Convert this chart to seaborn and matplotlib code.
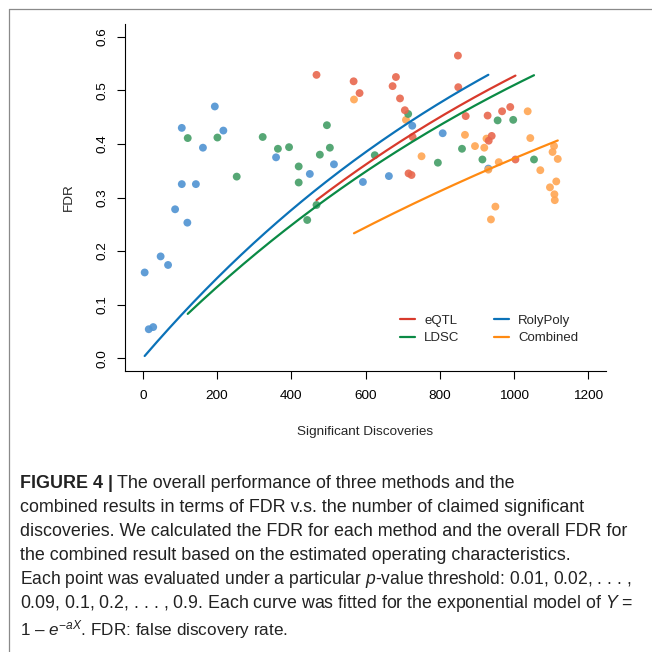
import numpy as np
import pandas as pd
import seaborn as sns
import matplotlib
matplotlib.use('Agg')
import matplotlib.pyplot as plt
from matplotlib.lines import Line2D

# points (significant discoveries, FDR)
roly_x = [5, 16, 28, 48, 68, 87, 105, 105, 120, 143, 162, 194, 217,
          359, 450, 515, 593, 663, 726, 808, 931]
roly_y = [0.160, 0.054, 0.058, 0.190, 0.174, 0.278, 0.430, 0.325, 0.253, 0.325,
          0.393, 0.470, 0.425, 0.375, 0.344, 0.362, 0.329, 0.340, 0.434, 0.420, 0.354]

ldsc_x = [121, 201, 253, 323, 364, 394, 420, 420, 443, 468, 477, 496, 504,
          625, 715, 795, 860, 915, 956, 998, 1054]
ldsc_y = [0.411, 0.412, 0.339, 0.413, 0.391, 0.394, 0.358, 0.328, 0.258, 0.286,
          0.380, 0.435, 0.393, 0.379, 0.456, 0.365, 0.391, 0.371, 0.444, 0.445, 0.371]

eqtl_x = [468, 568, 584, 673, 682, 693, 706, 716, 724, 727, 849, 850, 870,
          929, 932, 940, 968, 990, 1004]
eqtl_y = [0.529, 0.517, 0.495, 0.508, 0.525, 0.485, 0.463, 0.345, 0.342, 0.413,
          0.565, 0.506, 0.452, 0.453, 0.406, 0.415, 0.461, 0.469, 0.371]

comb_x = [569, 709, 751, 868, 895, 920, 926, 931, 938, 950, 959, 1037, 1044,
          1071, 1097, 1104, 1108, 1109, 1110, 1114, 1118]
comb_y = [0.483, 0.445, 0.377, 0.417, 0.396, 0.393, 0.410, 0.352, 0.259, 0.283,
          0.366, 0.461, 0.411, 0.351, 0.319, 0.385, 0.396, 0.306, 0.295, 0.330, 0.372]

# fitted rate a of Y = 1 - exp(-aX), per method
rates = {'eQTL': 0.000747, 'LDSC': 0.000713, 'RolyPoly': 0.000809, 'Combined': 0.0004666}

methods = ['eQTL', 'LDSC', 'RolyPoly', 'Combined']
line_colors = {'eQTL': '#D83A2C', 'LDSC': '#0A8A45', 'RolyPoly': '#0B72B8', 'Combined': '#FF8A12'}
point_colors = {'eQTL': '#E8674D', 'LDSC': '#449E66', 'RolyPoly': '#4F93D2', 'Combined': '#FFA552'}

series = {'RolyPoly': (roly_x, roly_y), 'Combined': (comb_x, comb_y),
          'LDSC': (ldsc_x, ldsc_y), 'eQTL': (eqtl_x, eqtl_y)}

pts = pd.concat([pd.DataFrame({'x': xs, 'y': ys, 'method': m})
                 for m, (xs, ys) in series.items()], ignore_index=True)

curves = []
for m in methods:
    xs = series[m][0]
    xx = np.linspace(min(xs), max(xs), 200)
    curves.append(pd.DataFrame({'x': xx, 'y': 1 - np.exp(-rates[m] * xx), 'method': m}))
curves = pd.concat(curves, ignore_index=True)

sns.set_style('ticks')
plt.rcParams['font.family'] = ['Liberation Sans', 'DejaVu Sans']
plt.rcParams['mathtext.fontset'] = 'custom'
plt.rcParams['mathtext.rm'] = 'Liberation Sans'
plt.rcParams['mathtext.it'] = 'Liberation Sans:italic'

fig = plt.figure(figsize=(6.52, 6.52), dpi=100)
W = H = 652.0
ax = fig.add_axes([125 / W, 1 - 371 / H, (606 - 125) / W, (371 - 24) / H])

sns.scatterplot(data=pts, x='x', y='y', hue='method', palette=point_colors,
                s=32, linewidth=0, alpha=0.9, legend=False, ax=ax, zorder=2)
sns.lineplot(data=curves, x='x', y='y', hue='method', palette=line_colors,
             linewidth=1.6, sort=False, estimator=None, legend=False, ax=ax, zorder=3)

ax.set_xlim(-48, 1248)
ax.set_ylim(-0.024, 0.624)
ax.set_xticks([0, 200, 400, 600, 800, 1000, 1200])
ax.set_yticks([0.0, 0.1, 0.2, 0.3, 0.4, 0.5, 0.6])
ax.set_yticklabels(['0.0', '0.1', '0.2', '0.3', '0.4', '0.5', '0.6'])
for s in ['top', 'right']:
    ax.spines[s].set_visible(False)
for s in ['left', 'bottom']:
    ax.spines[s].set_color('black')
    ax.spines[s].set_linewidth(0.8)
ax.tick_params(axis='both', length=5.8, width=0.8, color='black', labelsize=9.7,
               labelcolor='black')
ax.tick_params(axis='x', pad=8)
ax.tick_params(axis='y', pad=6)
for lab in ax.get_yticklabels():
    lab.set_rotation(90)
    lab.set_va('center')
ax.set_xlabel('Significant Discoveries', fontsize=9.7, labelpad=17)
ax.set_ylabel('FDR', fontsize=9.7, labelpad=16)

handles = [Line2D([], [], color=line_colors[m], lw=1.6) for m in methods]
ax.legend(handles, methods, ncol=2, frameon=False, fontsize=9.5,
          loc='upper left', bbox_to_anchor=(0.572, 0.163), borderpad=0,
          borderaxespad=0, handlelength=1.15, handletextpad=0.68,
          columnspacing=2.6, labelspacing=0.42)

# outer frame of the figure panel
fig.add_artist(Line2D([9 / W, 9 / W], [0, 1 - 9 / H], color='#8a8a8a', lw=0.9))
fig.add_artist(Line2D([9 / W, 1], [1 - 9 / H, 1 - 9 / H], color='#8a8a8a', lw=0.9))

# caption; lines that run long in the source are shrunk to its width
cap_size = 12.9
x0 = 20 / W
lines_y = [484, 508, 532, 556, 580, 604, 630]
right_edges = [544, 631, 632, 617, 632, 632, 287]
caption = [
    'The overall performance of three methods and the',
    'combined results in terms of FDR v.s. the number of claimed significant',
    'discoveries. We calculated the FDR for each method and the overall FDR for',
    'the combined result based on the estimated operating characteristics.',
    r'Each point was evaluated under a particular $p$-value threshold: 0.01, 0.02, . . . ,',
    r'0.09, 0.1, 0.2, . . . , 0.9. Each curve was fitted for the exponential model of $Y$ =',
    r'1 – $e^{-aX}$. FDR: false discovery rate.',
]
col = '#222222'
bold = fig.text(x0, 1 - lines_y[0] / H, 'FIGURE 4 |', fontsize=cap_size,
                fontweight='bold', va='center', color=col)
fig.canvas.draw()
fig.text(bold.get_window_extent().x1 / W + 4 / W, 1 - lines_y[0] / H,
         caption[0], fontsize=cap_size, va='center', color=col)

for yy, txt, edge in zip(lines_y[1:], caption[1:], right_edges[1:]):
    t = fig.text(x0, 1 - yy / H, txt, fontsize=cap_size, va='center', color=col)
    fig.canvas.draw()
    fit = cap_size * (edge - 20) / t.get_window_extent().width
    t.set_fontsize(min(cap_size, fit))

fig.savefig('out.png', dpi=100)
